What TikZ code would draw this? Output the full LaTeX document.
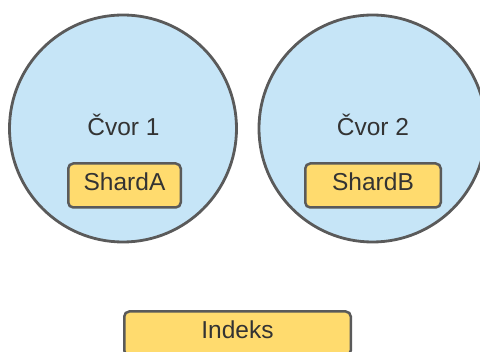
\documentclass[tikz,border=0pt]{standalone}
\usepackage{fontspec}
\setmainfont{Liberation Sans}
\definecolor{nodeblue}{HTML}{C6E5F7}
\definecolor{shardyellow}{HTML}{FFDB6E}
\definecolor{edgegray}{HTML}{5A5A5A}
\definecolor{textgray}{HTML}{333333}

\begin{document}
\begin{tikzpicture}[x=1pt, y=-1pt,
        cvor/.style={circle, draw=edgegray, line width=2.8pt, fill=nodeblue, minimum size=227pt, inner sep=0pt},
        shard/.style={rectangle, rounded corners=5pt, draw=edgegray, line width=2.5pt, fill=shardyellow,
            minimum height=44pt, inner sep=0pt, text=textgray, font=\fontsize{24.5}{29}\selectfont,
            text height=17.5pt, text depth=7pt},
        lbl/.style={text=textgray, font=\fontsize{24.5}{29}\selectfont, inner sep=0pt}]
        \useasboundingbox (0,0) rectangle (480,352);
        % The two nodes of the cluster
        \node [cvor] (cvor1) at (123,128.5) {};
        \node [cvor] (cvor2) at (372.5,128.5) {};
        \node [lbl, anchor=base] (cvor1txt) at (123.5,136) {Čvor 1};
        \node [lbl, anchor=base] (cvor2txt) at (373,136) {Čvor 2};
        % One shard inside each node
        \node [shard, minimum width=112.5pt] (sharda) at (124.5,185.5) {ShardA};
        \node [shard, minimum width=135.5pt] (shardb) at (373,185.5) {ShardB};
        % The index below, cut by the lower edge
        \node [shard, minimum width=226.5pt] (indeks) at (237.5,333.5) {Indeks};
    \end{tikzpicture}
\end{document}
